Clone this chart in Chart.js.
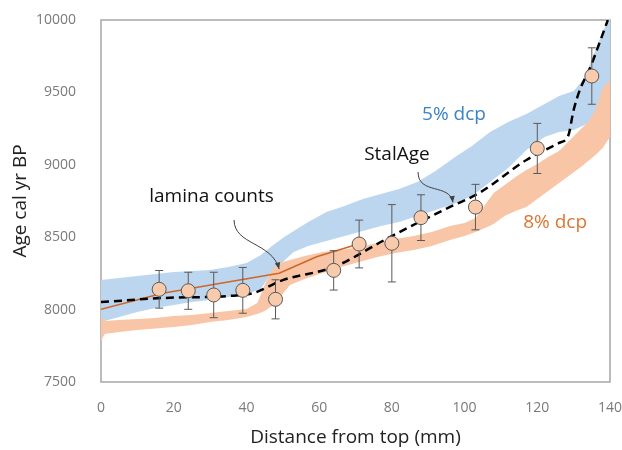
<!DOCTYPE html>
<html lang="en">
<head>
  <meta charset="UTF-8">
  <title>Age model – distance from top</title>
  <script src="https://cdn.jsdelivr.net/npm/chart.js@4.4.1/dist/chart.umd.min.js"></script>
  <style>
    html, body { margin: 0; padding: 0; background: #fff; }
    #wrap { width: 622px; height: 450px; }
  </style>
</head>
<body>
  <div id="wrap"><canvas id="ageChart"></canvas></div>
  <script>
    // dated samples (circles with 2-sigma bars)
    const sampleMm  = [16, 24, 31, 39, 48, 64, 71, 80, 88, 103, 120, 135];
    const sampleAge = [8140, 8130, 8101, 8133, 8071, 8271, 8453, 8458, 8635, 8708, 9113, 9613];
    const sampleErr = [130, 128, 157, 158, 135, 136, 165, 267, 158, 157, 173, 195];

    // StalAge model
    const stalMm  = [0, 17, 35, 42, 50, 64, 78, 87, 96, 104, 117, 126, 128.5, 130, 131.7, 134.5, 137.2, 139.4];
    const stalAge = [8052, 8080, 8094, 8115, 8204, 8294, 8481, 8598, 8709, 8805, 9033, 9151, 9200, 9378, 9517, 9668, 9848, 10000];

    // lamina counts
    const laminaMm  = [0, 17, 35.3, 49, 59.3, 69.9];
    const laminaAge = [8002, 8113, 8193, 8251, 8365, 8446];

    // 5% dcp envelope
    const dcp5Mm = [0, 5, 10, 15, 20, 25, 30, 35, 40, 44, 47, 50, 53, 57, 62, 67, 72, 77, 82, 87, 92, 97, 102, 107, 112, 117, 122, 126, 130, 133, 136, 138, 140];
    const dcp5Lo = [7914, 7949, 7983, 8011, 8032, 8052, 8066, 8087, 8108, 8142, 8260, 8329, 8398, 8439, 8474, 8508, 8543, 8577, 8605, 8646, 8688, 8729, 8785, 8881, 8978, 9102, 9192, 9227, 9240, 9275, 9296, 9240, 9192];
    const dcp5Hi = [8204, 8218, 8232, 8246, 8260, 8267, 8273, 8294, 8322, 8377, 8439, 8494, 8543, 8605, 8674, 8715, 8764, 8798, 8833, 8881, 8957, 9047, 9130, 9227, 9296, 9351, 9420, 9475, 9510, 9599, 9793, 9917, 10034];

    // 8% dcp envelope
    const dcp8Mm = [0, 1, 5, 10, 15, 20, 25, 30, 35, 40, 43, 45, 47, 49, 52, 56, 61, 66, 71, 76, 81, 86, 91, 96, 100, 103, 105, 108, 111, 114, 117, 120, 123, 126, 129, 132, 134, 136, 138, 140];
    const dcp8Lo = [7783, 7831, 7845, 7859, 7869, 7880, 7894, 7914, 7928, 7949, 7970, 7990, 8025, 8080, 8170, 8211, 8253, 8294, 8329, 8363, 8391, 8412, 8439, 8481, 8508, 8536, 8557, 8591, 8646, 8681, 8709, 8764, 8819, 8874, 8930, 8985, 9026, 9068, 9116, 9192];
    const dcp8Hi = [7956, 7921, 7928, 7935, 7942, 7956, 7963, 7977, 7990, 8004, 8046, 8170, 8273, 8322, 8343, 8370, 8398, 8412, 8432, 8460, 8488, 8508, 8536, 8577, 8598, 8633, 8702, 8805, 8860, 8916, 8964, 9006, 9054, 9095, 9171, 9247, 9296, 9378, 9530, 9586];

    const xTicks = [0, 20, 40, 60, 80, 100, 120, 140];
    const yTicks = [7500, 8000, 8500, 9000, 9500, 10000];

    const pts = (xs, ys) => xs.map((v, i) => ({ x: v, y: ys[i] }));
    const font = 'Open Sans';

    const band = (xs, lo, hi, color, order) => [
      { data: pts(xs, lo), borderWidth: 0, pointRadius: 0, pointHoverRadius: 0, fill: false, order: order + 1 },
      { data: pts(xs, hi), borderWidth: 0, pointRadius: 0, pointHoverRadius: 0, fill: '-1', backgroundColor: color, order: order }
    ];

    const errorBars = sampleMm.map((m, i) => ({
      data: [{ x: m, y: sampleAge[i] - sampleErr[i] }, { x: m, y: sampleAge[i] + sampleErr[i] }],
      borderColor: '#595959', borderWidth: 1,
      pointStyle: 'line', pointRadius: 4, pointBorderColor: '#595959', pointBorderWidth: 1,
      fill: false, order: 2
    }));

    // frame + text labels + arrows
    const notes = {
      id: 'notes',
      beforeDatasetsDraw(chart) {
        const { ctx, chartArea: a } = chart;
        ctx.save();
        ctx.strokeStyle = '#a6a6a6';
        ctx.lineWidth = 1.5;
        ctx.strokeRect(a.left, a.top, a.right - a.left, a.bottom - a.top);
        ctx.restore();
      },
      afterDatasetsDraw(chart) {
        const { ctx, scales: { x, y } } = chart;
        const p = (mm, yr) => [x.getPixelForValue(mm), y.getPixelForValue(yr)];
        ctx.save();
        ctx.font = '19px "' + font + '"';
        ctx.textAlign = 'center';
        ctx.textBaseline = 'middle';
        const text = (t, mm, yr, c) => { ctx.fillStyle = c; ctx.fillText(t, ...p(mm, yr)); };
        text('lamina counts', 30.4, 8778, '#111');
        text('StalAge', 81.4, 9068, '#111');
        text('5% dcp', 97.1, 9344, '#3a83c5');
        text('8% dcp', 124.9, 8598, '#dd7533');

        const arrow = (a0, c1, c2, a1) => {
          const [x0, y0] = p(...a0), [x1, y1] = p(...c1), [x2, y2] = p(...c2), [x3, y3] = p(...a1);
          ctx.strokeStyle = '#404040';
          ctx.fillStyle = '#404040';
          ctx.lineWidth = 1;
          ctx.beginPath();
          ctx.moveTo(x0, y0);
          ctx.bezierCurveTo(x1, y1, x2, y2, x3, y3);
          ctx.stroke();
          const ang = Math.atan2(y3 - y2, x3 - x2);
          ctx.beginPath();
          ctx.moveTo(x3, y3);
          ctx.lineTo(x3 - 7 * Math.cos(ang - 0.4), y3 - 7 * Math.sin(ang - 0.4));
          ctx.lineTo(x3 - 7 * Math.cos(ang + 0.4), y3 - 7 * Math.sin(ang + 0.4));
          ctx.closePath();
          ctx.fill();
        };
        arrow([36.6, 8619], [36.6, 8446], [47, 8467], [49, 8280]);
        arrow([87.2, 8950], [87.2, 8791], [96, 8874], [96.8, 8740]);
        ctx.restore();
      }
    };

    new Chart(document.getElementById('ageChart'), {
      type: 'line',
      data: {
        datasets: [
          {
            data: pts(sampleMm, sampleAge), showLine: false,
            pointRadius: 7, pointHoverRadius: 7, pointBackgroundColor: '#f8cbad', pointBorderColor: '#595959', pointBorderWidth: 1,
            order: 0
          },
          ...errorBars,
          {
            data: pts(stalMm, stalAge), borderColor: '#000', borderWidth: 2.5, borderDash: [8, 5],
            pointRadius: 0, pointHoverRadius: 0, cubicInterpolationMode: 'monotone', fill: false, order: 3
          },
          {
            data: pts(laminaMm, laminaAge), borderColor: '#d0652a', borderWidth: 1.5,
            pointRadius: 0, pointHoverRadius: 0, fill: false, order: 4
          },
          ...band(dcp8Mm, dcp8Lo, dcp8Hi, '#f8c6a6', 5),
          ...band(dcp5Mm, dcp5Lo, dcp5Hi, '#bcd6ef', 7)
        ]
      },
      options: {
        responsive: true,
        maintainAspectRatio: false,
        animation: false,
        layout: { padding: { top: 20, right: 12, left: 0, bottom: 0 } },
        plugins: { legend: { display: false }, tooltip: { enabled: false } },
        scales: {
          x: {
            type: 'linear', min: 0, max: 140,
            afterFit: s => { s.height = 68; s.paddingLeft = 0; s.paddingRight = 0; },
            afterBuildTicks: s => { s.ticks = xTicks.map(v => ({ value: v })); },
            grid: { display: false }, border: { display: false },
            ticks: { color: '#7a7a7a', font: { family: font, size: 14 }, padding: 10, callback: v => String(v) },
            title: { display: true, text: 'Distance from top (mm)', color: '#222', font: { family: font, size: 19 }, padding: { top: 0, bottom: 1 } }
          },
          y: {
            min: 7500, max: 10000,
            afterFit: s => { s.width = 101; s.paddingTop = 0; s.paddingBottom = 0; },
            afterBuildTicks: s => { s.ticks = yTicks.map(v => ({ value: v })); },
            grid: { display: false }, border: { display: false },
            ticks: { color: '#7a7a7a', font: { family: font, size: 14 }, padding: 17, callback: v => String(v) },
            title: { display: true, text: 'Age cal yr BP', color: '#222', font: { family: font, size: 19 }, padding: { top: 9, bottom: 0 } }
          }
        }
      },
      plugins: [notes]
    });
  </script>
</body>
</html>
